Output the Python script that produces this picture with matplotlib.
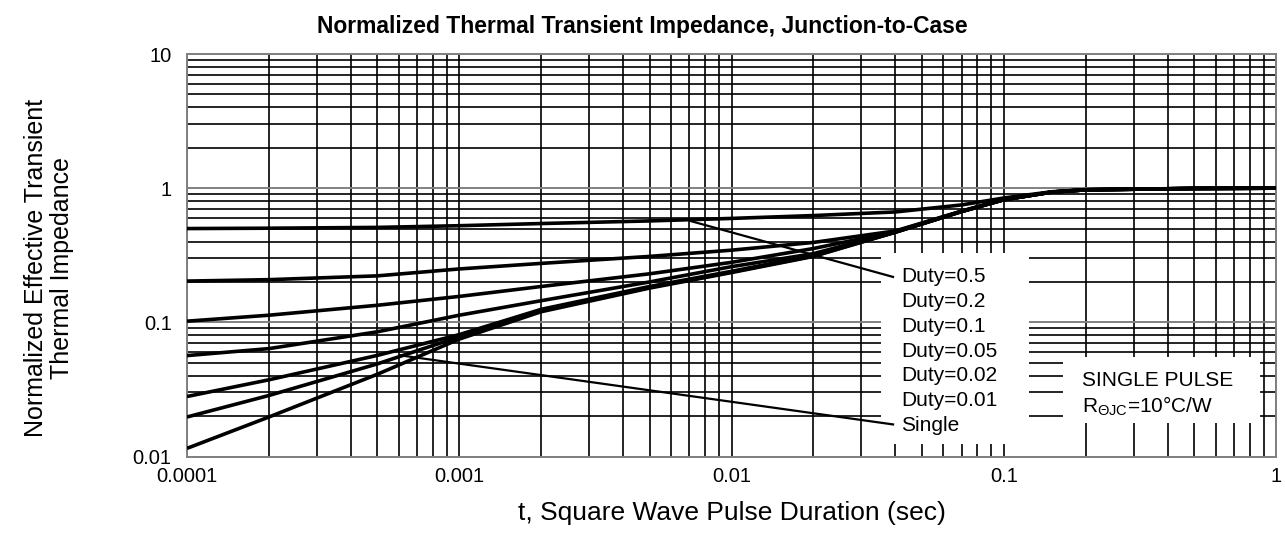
import matplotlib
matplotlib.use("Agg")
import matplotlib.pyplot as plt
from matplotlib.patches import Rectangle
from matplotlib.ticker import FixedLocator, FixedFormatter, LogLocator, NullFormatter

plt.rcParams['font.family'] = ['Liberation Sans', 'DejaVu Sans']

# ---- data ----
t_vals = [1e-4, 2e-4, 5e-4, 1e-3, 2e-3, 5e-3, 1e-2, 2e-2, 4e-2, 7e-2, 0.1, 0.15, 0.2, 0.5, 1.0]

z_d05 = [0.500, 0.503, 0.510, 0.525, 0.545, 0.570, 0.595, 0.625, 0.665, 0.75, 0.845, 0.94, 0.975, 0.995, 1.0]
z_d02 = [0.203, 0.208, 0.222, 0.250, 0.275, 0.310, 0.345, 0.394, 0.480, 0.675, 0.825, 0.935, 0.972, 0.995, 1.0]
z_d01 = [0.102, 0.113, 0.134, 0.156, 0.185, 0.230, 0.280, 0.355, 0.475, 0.672, 0.822, 0.935, 0.972, 0.995, 1.0]
z_d005 = [0.0565, 0.0637, 0.085, 0.113, 0.145, 0.200, 0.260, 0.325, 0.472, 0.670, 0.820, 0.935, 0.972, 0.995, 1.0]
z_d002 = [0.0280, 0.0373, 0.0567, 0.081, 0.125, 0.185, 0.240, 0.316, 0.470, 0.670, 0.820, 0.935, 0.972, 0.995, 1.0]
z_d001 = [0.0197, 0.0285, 0.049, 0.078, 0.122, 0.182, 0.237, 0.312, 0.470, 0.670, 0.820, 0.935, 0.972, 0.995, 1.0]
z_single = [0.0115, 0.0197, 0.041, 0.075, 0.120, 0.180, 0.235, 0.310, 0.470, 0.670, 0.820, 0.935, 0.972, 0.995, 1.0]

series = [z_d05, z_d02, z_d01, z_d005, z_d002, z_d001, z_single]
labels = ["Duty=0.5", "Duty=0.2", "Duty=0.1", "Duty=0.05", "Duty=0.02", "Duty=0.01", "Single"]

# leader lines (annotation)
lead05_t = [7.05e-3, 0.0392]
lead05_z = [0.570, 0.218]
leadS_t = [6.05e-4, 0.0392]
leadS_z = [0.0568, 0.01734]

xticks = [1e-4, 1e-3, 1e-2, 1e-1, 1]
xticklabels = ["0.0001", "0.001", "0.01", "0.1", "1"]
yticks = [0.01, 0.1, 1, 10]
yticklabels = ["0.01", "0.1", "1", "10"]

# ---- figure ----
fig = plt.figure(figsize=(12.85, 5.35), dpi=100)
ax = fig.add_axes([187/1285, 1-456.5/535, 1089/1285, 402.5/535])
ax.set_xscale('log')
ax.set_yscale('log')
ax.set_xlim(1e-4, 1)
ax.set_ylim(0.01, 10)

ax.xaxis.set_major_locator(FixedLocator(xticks))
ax.xaxis.set_major_formatter(FixedFormatter(xticklabels))
ax.xaxis.set_minor_locator(LogLocator(base=10, subs=range(2, 10), numticks=20))
ax.xaxis.set_minor_formatter(NullFormatter())
ax.yaxis.set_major_locator(FixedLocator(yticks))
ax.yaxis.set_major_formatter(FixedFormatter(yticklabels))
ax.yaxis.set_minor_locator(LogLocator(base=10, subs=range(2, 10), numticks=20))
ax.yaxis.set_minor_formatter(NullFormatter())

ax.tick_params(which='both', length=0, labelsize=14.5)
ax.tick_params(axis='x', pad=7.5)
ax.tick_params(axis='y', pad=11)

ax.set_axisbelow(True)
ax.grid(True, which='both', axis='x', color='black', lw=1.2)
ax.grid(True, which='minor', axis='y', color='black', lw=1.2)
ax.grid(True, which='major', axis='y', color='#808080', lw=1.4)
for s in ax.spines.values():
    s.set_color('#808080')
    s.set_linewidth(1.4)

# white boxes masking the grid
ax.add_patch(Rectangle((0.637, 0.031), 0.136, 0.475, transform=ax.transAxes,
                       facecolor='white', edgecolor='none', zorder=1.5))
ax.add_patch(Rectangle((0.804, 0.083), 0.181, 0.164, transform=ax.transAxes,
                       facecolor='white', edgecolor='none', zorder=1.5))

for z in series:
    ax.plot(t_vals, z, color='black', lw=2.6, zorder=3, solid_capstyle='butt')

ax.plot(lead05_t, lead05_z, color='black', lw=1.6, zorder=3)
ax.plot(leadS_t, leadS_z, color='black', lw=1.6, zorder=3)

label_y = [0.446, 0.384, 0.324, 0.262, 0.202, 0.140, 0.078]
for lab, yy in zip(labels, label_y):
    ax.text(0.6556, yy, lab, transform=ax.transAxes, ha='left', va='center',
            fontsize=15, zorder=4)

ax.text(0.822, 0.190, "SINGLE PULSE", transform=ax.transAxes, ha='left',
        va='center', fontsize=15, zorder=4)
ax.text(0.822, 0.126, r"R$_{\mathregular{ΘJC}}$=10°C/W", transform=ax.transAxes,
        ha='left', va='center', fontsize=15, zorder=4)

fig.text(642.5/1285, 1-27/535, "Normalized Thermal Transient Impedance, Junction-to-Case",
         ha='center', va='center', fontsize=16.5, fontweight='bold')
fig.text(732/1285, 1-513/535, "t, Square Wave Pulse Duration (sec)",
         ha='center', va='center', fontsize=19)
fig.text(49/1285, 1-268/535, "Normalized Effective Transient\nThermal Impedance",
         ha='center', va='center', rotation=90, fontsize=18, multialignment='center',
         linespacing=1.1)

fig.savefig("out.png", dpi=100)
